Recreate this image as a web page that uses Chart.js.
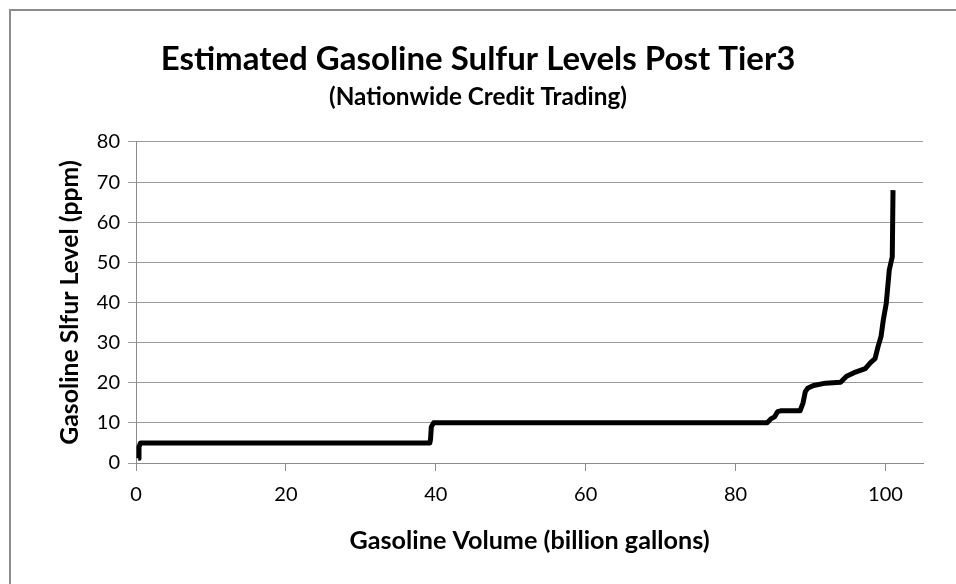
<!DOCTYPE html>
<html>
<head>
<meta charset="utf-8">
<script src="https://cdn.jsdelivr.net/npm/chart.js@4"></script>
<style>
  html, body { margin: 0; padding: 0; background: #fff; }
  #wrap { position: relative; width: 956px; height: 584px; }
</style>
</head>
<body>
<div id="wrap"><canvas id="c" width="956" height="584"></canvas></div>
<script>
// ---- data ----
const titleText = 'Estimated Gasoline Sulfur Levels Post Tier3';
const subtitleText = '(Nationwide Credit Trading)';
const xAxisTitle = 'Gasoline Volume (billion gallons)';
const yAxisTitle = 'Gasoline Slfur Level (ppm)';

const volume = [0.3, 0.4, 0.6, 2.0, 39.2, 39.3, 39.4, 39.7, 40.5, 84.2, 84.7, 85.2, 85.6, 86.0, 88.6, 89.0, 89.3, 89.6, 90.4, 92.0, 94.0, 94.8, 95.8, 97.3, 98.0, 98.6, 99.0, 99.4, 99.7, 100.1, 100.5, 100.9, 101.0];
const sulfur = [1.2, 4.0, 5.0, 5.0, 5.0, 6.0, 9.0, 10.0, 10.0, 10.0, 11.0, 11.5, 12.8, 13.0, 13.0, 15.0, 17.8, 18.6, 19.3, 19.9, 20.1, 21.6, 22.5, 23.5, 25.0, 26.0, 29.0, 31.5, 35.6, 39.8, 48.1, 51.4, 68.0];

const xTickValues = [0, 20, 40, 60, 80, 100];
const yTickValues = [0, 10, 20, 30, 40, 50, 60, 70, 80];
const xMin = 0, xMax = 105;
const yMin = 0, yMax = 80;

// ---- styling helpers ----
const FAMILY = 'Lato, "Open Sans", "DejaVu Sans", sans-serif';
function fitSize(text, weight, target) {
  const ctx = document.createElement('canvas').getContext('2d');
  ctx.font = weight + ' 100px ' + FAMILY;
  const w = ctx.measureText(text).width;
  return Math.round(100 * target / w * 10) / 10;
}

const points = volume.map((v, i) => ({ x: v, y: sulfur[i] }));

const frame = {
  id: 'frame',
  beforeDraw(chart) {
    const ctx = chart.ctx;
    ctx.save();
    ctx.fillStyle = '#fff';
    ctx.fillRect(0, 0, chart.width, chart.height);
    ctx.fillStyle = '#8c8c8c';
    ctx.fillRect(9, 9, 2, chart.height - 9);
    ctx.fillRect(9, 9, chart.width - 9, 2);
    ctx.restore();
  }
};

function build() {
  const titleSize = fitSize(titleText, 'bold', 635);
  const subSize = fitSize(subtitleText, 'bold', 298);
  const xtSize = fitSize(xAxisTitle, 'bold', 360);
  const ytSize = fitSize(yAxisTitle, 'bold', 285);
  const tickSize = 20;
  const sidePad = 33;

  new Chart(document.getElementById('c'), {
    type: 'scatter',
    data: {
      datasets: [{
        data: points,
        showLine: true,
        borderColor: '#000',
        backgroundColor: '#000',
        borderWidth: 5,
        pointRadius: 0,
        pointHoverRadius: 0,
        tension: 0,
        borderJoinStyle: 'round',
        borderCapStyle: 'butt'
      }]
    },
    options: {
      responsive: false,
      devicePixelRatio: 1,
      animation: false,
      layout: { padding: { left: sidePad, right: sidePad, top: 0, bottom: 0 } },
      plugins: {
        legend: { display: false },
        tooltip: { enabled: false },
        title: {
          display: true,
          text: titleText,
          color: '#000',
          font: { family: FAMILY, weight: 'bold', size: titleSize, lineHeight: 1.2 },
          padding: { top: 59 - titleSize * 0.6, bottom: 4 }
        },
        subtitle: {
          display: true,
          text: subtitleText,
          color: '#000',
          font: { family: FAMILY, weight: 'bold', size: subSize, lineHeight: 1.2 },
          padding: { top: 0, bottom: 30 }
        }
      },
      scales: {
        x: {
          type: 'linear',
          min: xMin, max: xMax,
          afterBuildTicks(scale) { scale.ticks = xTickValues.map(v => ({ value: v })); },
          ticks: {
            color: '#000',
            padding: 12,
            autoSkip: false,
            maxRotation: 0,
            font: { family: FAMILY, size: tickSize, lineHeight: 1.2 }
          },
          grid: {
            drawOnChartArea: false,
            drawTicks: true,
            tickLength: 8,
            color: '#8c8c8c'
          },
          border: { color: '#8c8c8c', width: 1 },
          title: {
            display: true,
            text: xAxisTitle,
            color: '#000',
            font: { family: FAMILY, weight: 'bold', size: xtSize, lineHeight: 1.2 },
            padding: { top: 0, bottom: 43 - xtSize * 0.6 }
          },
          afterFit(scale) { scale.height = 121; }
        },
        y: {
          type: 'linear',
          min: yMin, max: yMax,
          afterBuildTicks(scale) { scale.ticks = yTickValues.map(v => ({ value: v })); },
          ticks: {
            color: '#000',
            padding: 8,
            autoSkip: false,
            font: { family: FAMILY, size: tickSize, lineHeight: 1.2 }
          },
          grid: {
            color: '#9a9a9a',
            tickLength: 8,
            lineWidth: 1
          },
          border: { color: '#8c8c8c', width: 1 },
          title: {
            display: true,
            text: yAxisTitle,
            color: '#000',
            font: { family: FAMILY, weight: 'bold', size: ytSize, lineHeight: 1.2 },
            padding: { top: 70 - sidePad - ytSize * 0.6, bottom: 0 }
          },
          afterFit(scale) { scale.width = 136 - sidePad; }
        }
      }
    },
    plugins: [frame]
  });
}

if (document.fonts && document.fonts.load) {
  Promise.all([
    document.fonts.load('bold 20px Lato'),
    document.fonts.load('20px Lato')
  ]).then(build, build);
} else {
  build();
}
</script>
</body>
</html>
